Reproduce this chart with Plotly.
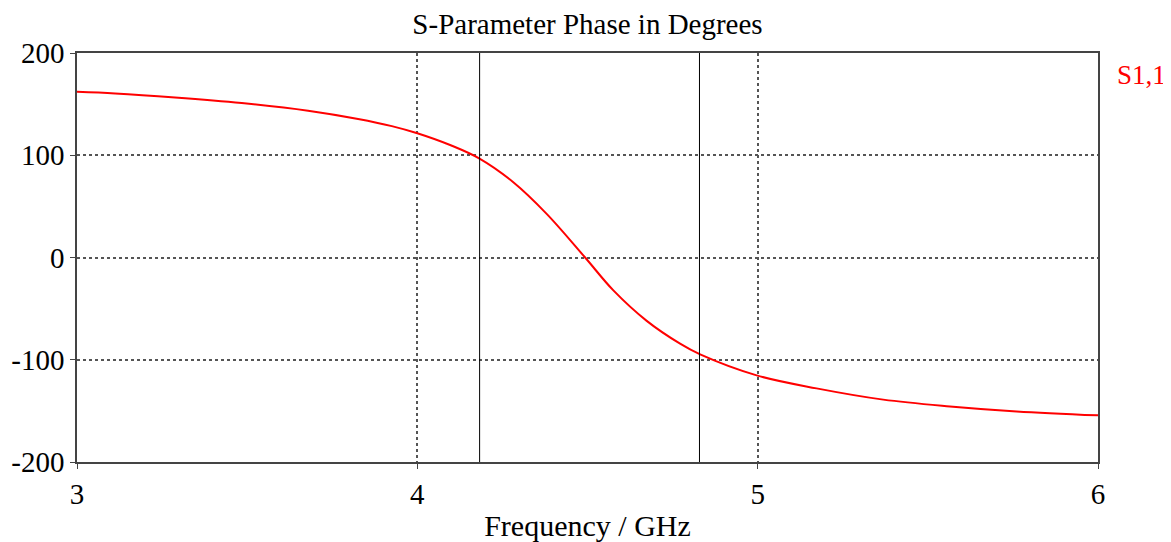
import plotly.graph_objects as go

# Data
freq_ghz = [3.0, 3.112, 3.288, 3.484, 3.679, 3.826, 3.925, 4.0, 4.1, 4.184, 4.282, 4.38,
            4.493, 4.576, 4.674, 4.772, 4.831, 4.997, 5.173, 5.369, 5.565, 5.761, 6.0]
phase_deg = [162, 160.5, 156.6, 151.1, 143.6, 135.5, 128.5, 121.5, 109.5, 96.5, 73.6, 42.7,
             0, -32.2, -62, -84.3, -94.8, -115.3, -128, -139, -145.6, -150.5, -154.4]
marker_freqs = [4.183, 4.829]
x_ticks = [3, 4, 5, 6]
y_ticks = [-200, -100, 0, 100, 200]
y_tick_text = ["-200", "-100", "0", "100", "200"]
series_name = "S1,1"

FONT = "Liberation Serif, Times New Roman, serif"

fig = go.Figure()
fig.add_trace(go.Scatter(
    x=freq_ghz, y=phase_deg, mode="lines", name=series_name,
    line=dict(color="#ff0000", width=2, shape="spline", smoothing=1.0),
    showlegend=False,
))

for f in marker_freqs:
    fig.add_shape(type="line", xref="x", yref="paper", x0=f, x1=f, y0=0, y1=1,
                  line=dict(color="#000000", width=1))

fig.add_annotation(text=series_name, xref="paper", yref="paper", x=1.0166, y=0.946,
                   xanchor="left", yanchor="middle", showarrow=False,
                   font=dict(family=FONT, size=27, color="#ff0000"))

axis_common = dict(
    showline=True, mirror=True, linecolor="#444444", linewidth=1.5,
    showgrid=True, gridcolor="#555555", gridwidth=1.5, griddash="dot",
    zeroline=False, ticks="outside", ticklen=5, tickcolor="#444444",
    automargin=False,
    tickfont=dict(family=FONT, size=29, color="#000000"),
)

fig.update_layout(
    width=1163, height=534,
    margin=dict(l=69, r=73, t=45, b=80, autoexpand=False),
    paper_bgcolor="white", plot_bgcolor="white",
    title=dict(text="S-Parameter Phase in Degrees", x=0.5, xref="paper",
               y=1 - 16 / 534, yref="container", yanchor="middle",
               font=dict(family=FONT, size=29, color="#000000")),
    xaxis=dict(range=[3, 6], tickvals=x_ticks,
               title=dict(text="Frequency / GHz", standoff=8,
                          font=dict(family=FONT, size=30, color="#000000")),
               **axis_common),
    yaxis=dict(range=[-200, 200], tickvals=y_ticks, ticktext=y_tick_text, **axis_common),
)

fig.write_html("out.html")
